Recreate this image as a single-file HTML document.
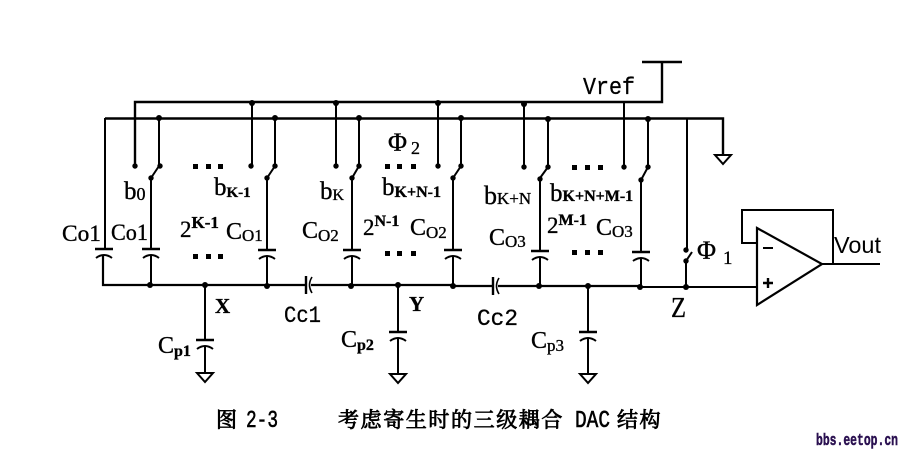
<!DOCTYPE html>
<html><head><meta charset="utf-8"><style>
html,body{margin:0;padding:0;background:#fff}
svg{display:block}
.s{font-family:"Liberation Serif",serif;fill:#000;stroke:#000;stroke-width:.35}
.m{font-family:"Liberation Mono",monospace;fill:#000}
.c{font-family:"Noto Serif CJK SC","Noto Sans CJK SC",serif;fill:#000;stroke:#000;stroke-width:.8}
</style></head><body>
<svg width="900" height="452" viewBox="0 0 900 452" xmlns="http://www.w3.org/2000/svg">
<defs>
<g id="cap"><path d="M-9 0H9" stroke="#000" stroke-width="2.6" fill="none"/><path d="M-8 9Q0 3 8 9" stroke="#000" stroke-width="2" fill="none"/></g>
<g id="gnd"><path d="M-8 0H8L0 9Z" stroke="#000" stroke-width="2" fill="#fff"/></g>
<g id="hcap"><path d="M0 -9V9" stroke="#000" stroke-width="2.4" fill="none"/><path d="M6 -8Q1 0 6 8" stroke="#000" stroke-width="1.6" fill="none"/></g>
</defs>
<g stroke="#000" fill="none" stroke-width="2">
<path d="M135 166V102H662V62M642 62H682" stroke-width="2.4"/>
<path d="M105 118.5H723V155" stroke-width="2.4"/>
<path d="M105 118V250"/>
<path d="M103 256V285H451" stroke-width="2.2"/>
<path d="M451 286H640" stroke-width="2.2"/>
<path d="M640 287H757" stroke-width="2"/>
<path d="M252 102V166M336 102V166M438 102V166M524 102V167M624 102V167"/>
<path d="M159 118V166L151 178V285"/>
<path d="M275 118V166L267 178V285"/>
<path d="M359 118V166L352 178V285"/>
<path d="M461 118V166L453 178V285"/>
<path d="M548 118V167L540 178V286"/>
<path d="M648 118V167L641 180V287"/>
<path d="M687 118V250"/>
<path d="M686 287V261L692 252"/>
<path d="M205 285V374M398 285V373M588 286V373"/>
<path d="M757 228L822 264L757 305Z" fill="#fff" stroke-width="2.2"/>
<path d="M757 243H742V210H833V264M822 264H880" stroke-width="2"/>
<path d="M763 248H773" stroke-width="2"/>
<path d="M763 283H773M768 278V288" stroke-width="2.4"/>
</g>
<rect x="307" y="282" width="4" height="7" fill="#fff"/>
<rect x="494" y="283" width="4" height="7" fill="#fff"/>
<use href="#hcap" x="306" y="285"/>
<use href="#hcap" x="493" y="286"/>
<g fill="#fff">
<rect x="143" y="250" width="16" height="5"/><rect x="259" y="251" width="16" height="5"/><rect x="344" y="251" width="16" height="5"/><rect x="445" y="251" width="16" height="5"/><rect x="532" y="252" width="16" height="5"/><rect x="633" y="253" width="16" height="5"/><rect x="197" y="341" width="16" height="5"/><rect x="390" y="333" width="16" height="5"/><rect x="580" y="333" width="16" height="5"/>
</g>
<use href="#cap" x="104" y="249"/><use href="#cap" x="151" y="249"/><use href="#cap" x="267" y="250"/><use href="#cap" x="352" y="250"/><use href="#cap" x="453" y="250"/><use href="#cap" x="540" y="251"/><use href="#cap" x="641" y="252"/>
<use href="#cap" x="205" y="340"/><use href="#cap" x="398" y="332"/><use href="#cap" x="588" y="332"/>
<use href="#gnd" x="723" y="155"/><use href="#gnd" x="205" y="373"/><use href="#gnd" x="398" y="374"/><use href="#gnd" x="588" y="374"/>
<g fill="#000">
<circle cx="135" cy="166" r="2.7"/><circle cx="160" cy="166" r="2.7"/><circle cx="151" cy="178" r="2.7"/>
<circle cx="251" cy="166" r="2.7"/><circle cx="275" cy="166" r="2.7"/><circle cx="267" cy="178" r="2.7"/>
<circle cx="336" cy="166" r="2.7"/><circle cx="359" cy="166" r="2.7"/><circle cx="352" cy="178" r="2.7"/>
<circle cx="438" cy="166" r="2.7"/><circle cx="461" cy="166" r="2.7"/><circle cx="453" cy="178" r="2.7"/>
<circle cx="524" cy="167" r="2.7"/><circle cx="548" cy="167" r="2.7"/><circle cx="540" cy="179" r="2.7"/>
<circle cx="624" cy="167" r="2.7"/><circle cx="648" cy="167" r="2.7"/><circle cx="641" cy="180" r="2.7"/>
<circle cx="686" cy="250" r="2.7"/><circle cx="686" cy="261" r="2.7"/>
<circle cx="252" cy="103" r="3"/><circle cx="336" cy="103" r="3"/><circle cx="438" cy="103" r="3"/><circle cx="524" cy="104" r="3"/>
<circle cx="159" cy="118" r="3"/><circle cx="275" cy="118" r="3"/><circle cx="359" cy="118" r="3"/><circle cx="461" cy="118" r="3"/><circle cx="548" cy="119" r="3"/><circle cx="648" cy="119" r="3"/>
<circle cx="150" cy="285" r="3"/><circle cx="205" cy="285" r="3"/><circle cx="267" cy="286" r="3"/><circle cx="351" cy="286" r="3"/><circle cx="398" cy="285" r="3"/><circle cx="453" cy="286" r="3"/><circle cx="539" cy="286" r="3"/><circle cx="588" cy="286" r="3"/><circle cx="640" cy="287" r="3"/><circle cx="686" cy="287" r="3"/>
<rect x="193" y="164" width="5" height="5"/><rect x="206" y="164" width="5" height="5"/><rect x="218" y="164" width="5" height="5"/>
<rect x="193" y="254" width="5" height="5"/><rect x="206" y="254" width="5" height="5"/><rect x="218" y="254" width="5" height="5"/>
<rect x="385" y="164" width="5" height="5"/><rect x="397" y="164" width="5" height="5"/><rect x="411" y="164" width="5" height="5"/>
<rect x="385" y="251" width="5" height="5"/><rect x="397" y="251" width="5" height="5"/><rect x="411" y="251" width="5" height="5"/>
<rect x="572" y="165" width="5" height="5"/><rect x="585" y="165" width="5" height="5"/><rect x="598" y="165" width="5" height="5"/>
<rect x="572" y="250" width="5" height="5"/><rect x="585" y="250" width="5" height="5"/><rect x="598" y="250" width="5" height="5"/>
</g>
<g class="s" font-size="21">
<text x="62" y="241" font-size="23" textLength="39" lengthAdjust="spacingAndGlyphs">Co1</text>
<text x="111" y="240" font-size="23" textLength="37" lengthAdjust="spacingAndGlyphs">Co1</text>
<text x="226" y="239" font-size="24">C<tspan font-size="17" dy="2">O1</tspan></text>
<text x="302" y="238" font-size="24">C<tspan font-size="17" dy="3">O2</tspan></text>
<text x="410" y="235" font-size="24">C<tspan font-size="17" dy="3">O2</tspan></text>
<text x="489" y="245" font-size="24">C<tspan font-size="17" dy="2">O3</tspan></text>
<text x="596" y="235" font-size="24">C<tspan font-size="17" dy="2">O3</tspan></text>
<text x="124" y="199" font-size="25">b<tspan font-size="18" dy="1">0</tspan></text>
<text x="214" y="195" font-size="25">b<tspan font-size="15" dy="2" font-weight="bold">K-1</tspan></text>
<text x="320" y="199" font-size="25">b<tspan font-size="16" dy="1">K</tspan></text>
<text x="382" y="195" font-size="25">b<tspan font-size="16" dy="2" font-weight="bold">K+N-1</tspan></text>
<text x="484" y="204" font-size="26">b<tspan font-size="17">K+N</tspan></text>
<text x="550" y="201" font-size="25">b<tspan font-size="16" font-weight="bold">K+N+M-1</tspan></text>
<text x="180" y="237" font-size="23">2<tspan font-size="17" dy="-9" font-weight="bold">K-1</tspan></text>
<text x="363" y="235" font-size="23">2<tspan font-size="16" dy="-9" font-weight="bold">N-1</tspan></text>
<text x="547" y="233" font-size="23">2<tspan font-size="16" dy="-8" font-weight="bold">M-1</tspan></text>
<text x="388" y="151" font-size="26">Φ<tspan font-size="18" dx="4" dy="3">2</tspan></text>
<text x="697" y="259" font-size="26">Φ<tspan font-size="19" dx="7" dy="5">1</tspan></text>
<text x="158" y="353" font-size="24">C<tspan font-size="16" dy="3" font-weight="bold">p1</tspan></text>
<text x="341" y="347" font-size="24">C<tspan font-size="16" dy="3" font-weight="bold">p2</tspan></text>
<text x="531" y="348" font-size="24">C<tspan font-size="17" dy="3">p3</tspan></text>
<text x="671" y="317" font-size="28" textLength="15" lengthAdjust="spacingAndGlyphs">Z</text>
<text x="215" y="313" font-size="21" font-weight="bold">X</text>
<text x="409" y="311" font-size="21" font-weight="bold">Y</text>
</g>
<g class="m">
<text x="583" y="94" font-size="24" textLength="52" lengthAdjust="spacingAndGlyphs" stroke="#000" stroke-width=".3">Vref</text>
<text x="834" y="253" font-family="Liberation Sans,sans-serif" font-size="23" textLength="47" lengthAdjust="spacingAndGlyphs">Vout</text>
<text x="284" y="322" font-size="23" textLength="37" lengthAdjust="spacingAndGlyphs" stroke="#000" stroke-width=".3">Cc1</text>
<text x="477" y="325" font-size="23" textLength="41" lengthAdjust="spacingAndGlyphs" stroke="#000" stroke-width=".3">Cc2</text>
</g>
<g class="c" font-size="21">
<text x="216" y="427">图</text>
<text x="338" y="427" letter-spacing="1.6">考虑寄生时的三级耦合</text>
<text x="617" y="427" letter-spacing="1.5">结构</text>
</g>
<g class="m" font-size="24" stroke="#000" stroke-width=".6">
<text x="246" y="427" textLength="32" lengthAdjust="spacingAndGlyphs">2-3</text>
<text x="575" y="427" textLength="35" lengthAdjust="spacingAndGlyphs">DAC</text>
</g>
<text x="816" y="445" font-family="Liberation Mono,monospace" font-size="17" font-weight="bold" fill="#2a1050" stroke="#2a1050" stroke-width=".5" textLength="82" lengthAdjust="spacingAndGlyphs">bbs.eetop.cn</text>
</svg>
</body></html>
